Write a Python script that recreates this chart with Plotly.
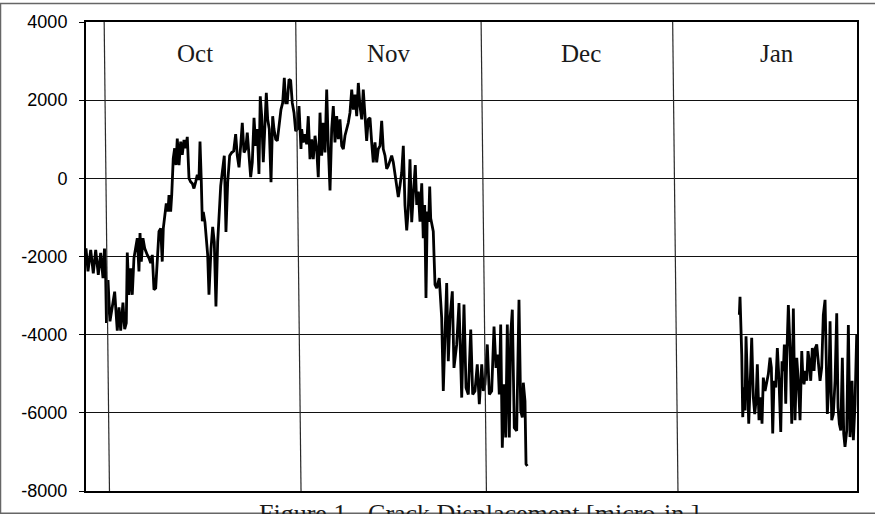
import plotly.graph_objects as go

# Crack displacement record, micro-inches; time in days since 1 October
fall_day = [
    -3.37, -3.05, -2.61, -2.19, -1.80, -1.38, -1.00, -0.62, -0.38, -0.22,
    -0.06, 0.19, 0.51, 0.88, 1.27, 1.69, 1.97, 2.24, 2.61, 2.89,
    3.15, 3.31, 3.58, 3.86, 4.12, 4.39, 4.67, 4.93, 5.20, 5.37,
    5.58, 5.85, 6.13, 6.29, 6.55, 6.82, 7.10, 7.36, 7.63, 7.91,
    8.16, 8.44, 8.72, 8.97, 9.14, 9.36, 9.62, 9.90, 10.06, 10.33,
    10.50, 10.75, 10.98, 11.19, 11.40, 11.68, 11.95, 12.21, 12.49, 12.76,
    13.02, 13.30, 13.57, 13.83, 14.10, 14.38, 14.64, 14.91, 15.08, 15.29,
    15.45, 15.61, 15.88, 16.32, 16.53, 16.86, 17.13, 17.39, 17.66, 17.94,
    18.15, 18.43, 18.68, 19.01, 19.28, 19.56, 19.88, 20.21, 20.53, 20.85,
    21.11, 21.39, 21.66, 21.92, 22.20, 22.47, 22.73, 23.01, 23.28, 23.54,
    23.82, 24.09, 24.35, 24.62, 24.83, 25.06, 25.32, 25.60, 25.81, 26.03,
    26.29, 26.57, 26.84, 27.05, 27.33, 27.59, 27.86, 28.18, 28.46, 28.72,
    28.95, 29.20, 29.48, 29.75, 30.01, 30.29, 30.56, 30.82, 31.10, 31.42,
    31.53, 31.79, 32.07, 32.34, 32.60, 32.88, 33.15, 33.41, 33.69, 33.96,
    34.22, 34.50, 34.77, 35.03, 35.31, 35.58, 35.84, 36.12, 36.39, 36.65,
    36.92, 37.20, 37.46, 37.73, 38.01, 38.27, 38.54, 38.82, 39.08, 39.35,
    39.63, 39.89, 40.16, 40.44, 40.70, 40.97, 41.25, 41.50, 41.78, 42.05,
    42.31, 42.59, 42.86, 43.12, 43.40, 43.67, 43.93, 44.21, 44.48, 44.74,
    45.02, 45.29, 45.55, 45.83, 46.10, 46.36, 46.63, 46.91, 47.17, 47.44,
    47.72, 47.98, 48.25, 48.53, 48.79, 49.06, 49.34, 49.60, 49.92, 50.15,
    50.41, 50.68, 50.96, 51.21, 51.44, 51.65, 51.86, 52.09, 52.25, 52.41,
    52.62, 52.83, 52.95, 53.11, 53.38, 53.80, 54.19, 54.45, 54.73, 55.00,
    55.26, 55.54, 55.91, 56.18, 56.62, 56.99, 57.43, 57.80, 58.13, 58.50,
    58.89, 59.21, 59.58, 59.95, 60.28, 60.67, 60.93, 61.20, 61.57, 61.90,
    62.28, 62.66, 62.98, 63.26, 63.51, 63.74, 64.00, 64.27, 64.55, 64.81,
    65.13, 65.36, 65.62, 65.94, 66.33, 66.70, 66.98, 67.24, 67.40, 67.67,
    67.84, 68.05,
]
fall_disp = [
    -1790, -2380, -1830, -2430, -1830, -2470, -1910, -2550, -1800, -2200,
    -3700, -2600, -3660, -3240, -2900, -3900, -3300, -3900, -3180, -3860,
    -3700, -1900, -2980, -2300, -2980, -2040, -1790, -1530, -2380, -1400,
    -2130, -1530, -1790, -1870, -1960, -2040, -2170, -1960, -2850, -2810,
    -2130, -1360, -1280, -2130, -1280, -1020, -640, -850, -430, -850,
    -430, 510, 770, 340, 1020, 340, 940, 600, 980, 770,
    1060, 0, -90, -130, -260, -90, 90, -40, 940, -90,
    -1100, -860, -1120, -1960, -2980, -1800, -1240, -1630, -3280, -1630,
    -950, -190, 150, 580, -1370, -100, 580, 660, 700, 1130,
    580, 280, 830, 1420, 660, 750, 1170, 580, 30, 410,
    1550, 830, 1260, 110, 2100, 1590, 410, 1420, 2190, 1510,
    1260, -100, 1590, 1260, 1000, 960, 1420, 1760, 1930, 2570,
    1930, 1930, 2530, 2500, 1930, 1680, 1210, 1260, 1850, 750,
    1260, 920, 1130, 870, 1590, 490, 1000, 490, 1090, 750,
    30, 1680, 580, 1420, 660, 2270, 830, -310, 1260, 1850,
    920, 1590, 1000, 1510, 830, 750, 1090, 1260, 1420, 1680,
    2270, 1760, 2140, 1590, 2440, 1850, 1510, 2270, 1420, 960,
    1510, 1550, 920, 410, 920, 410, 750, 830, 1470, 750,
    580, 240, 320, 490, 580, 410, 70, -230, -480, -190,
    150, 830, -690, -1330, -780, 490, -1120, -400, 340, -680,
    -340, -1110, -130, -1530, -680, -3060, -850, -1110, -210, -1020,
    -1190, -1360, -1960, -2720, -2810, -2550, -3570, -5440, -4000, -2680,
    -4680, -3570, -2890, -4850, -4250, -3190, -5610, -3230, -5360, -5530,
    -3870, -5530, -5440, -4760, -5780, -4760, -5440, -5270, -4250, -5530,
    -5440, -3790, -4850, -4510, -5530, -3740, -6890, -5270, -6630, -3740,
    -6630, -4000, -3360, -6380, -6460, -3110, -5950, -6120, -5230, -5700,
    -7310, -7360,
]

jan_day = [
    102.36, 102.47, 102.75, 102.91, 103.12, 103.28, 103.44, 103.65, 103.88, 104.09,
    104.36, 104.62, 104.85, 105.06, 105.27, 105.54, 105.82, 106.03, 106.24, 106.52,
    106.79, 107.05, 107.33, 107.54, 107.76, 107.97, 108.25, 108.51, 108.78, 109.06,
    109.27, 109.48, 109.64, 109.87, 110.03, 110.29, 110.56, 110.84, 111.10, 111.37,
    111.65, 111.90, 112.18, 112.46, 112.62, 112.83, 113.04, 113.27, 113.47, 113.68,
    113.91, 114.17, 114.45, 114.66, 114.88, 115.14, 115.42, 115.69, 115.95, 116.23,
    116.39, 116.60, 116.87, 117.04, 117.31, 117.57, 117.85, 118.12, 118.33, 118.54,
    118.77, 119.03, 119.25, 119.46, 119.74, 120.00, 120.27, 120.43, 120.60, 120.81,
    121.08, 121.35,
]
jan_disp = [
    -3490, -3030, -4510, -6110, -5350, -5940, -4040, -5440, -6280, -5350,
    -4080, -5600, -6030, -5690, -4760, -6190, -5600, -6280, -5100, -5440,
    -5180, -5010, -4590, -4840, -6530, -5180, -5350, -4340, -5180, -6490,
    -4680, -4930, -4250, -5770, -4590, -3240, -4340, -6280, -3330, -6190,
    -4590, -5180, -6190, -4420, -5010, -5270, -4930, -5180, -4420, -4680,
    -5180, -4340, -4930, -4340, -4250, -4680, -5180, -4840, -3490, -3110,
    -4340, -6030, -5180, -3660, -6190, -6030, -5180, -3450, -5860, -6280,
    -6450, -4590, -6530, -6870, -6450, -3750, -6620, -6190, -5180, -6700,
    -5770, -4000,
]

month_names = ["Oct", "Nov", "Dec", "Jan"]
month_start_day = [0, 31, 61, 92]
month_label_day = [14.3, 45.7, 76.7, 108.4]

y_ticks = [-8000, -6000, -4000, -2000, 0, 2000, 4000]
caption = "Figure 1 - Crack Displacement [micro-in.]"

# Page geometry
W, H = 875, 514
ML, MR, MT, MB = 86, 18, 19, 23
PW, PH = W - ML - MR, H - MT - MB


def px_to_paper_x(px):
    return (px - ML) / PW


def px_to_paper_y(py):
    return 1 - (py - MT) / PH


serif = "Liberation Serif, Times New Roman, serif"
sans = "Liberation Sans, Arial, sans-serif"

fig = go.Figure()
for days, disp in [(fall_day, fall_disp), (jan_day, jan_disp)]:
    fig.add_trace(go.Scatter(
        x=days, y=disp, mode="lines",
        line=dict(color="black", width=2.8),
        showlegend=False, hoverinfo="x+y",
    ))

shapes = []
# Month boundaries, drawn with a slight lean
lean = 0.43
for d in month_start_day:
    shapes.append(dict(
        type="line", xref="x", yref="paper",
        x0=d - lean, x1=d + lean, y0=1, y1=0,
        line=dict(color="#2a2a2a", width=1.2), layer="above",
    ))

# Outer frame around the page (left, top, bottom edges)
shapes.append(dict(
    type="rect", xref="paper", yref="paper",
    x0=px_to_paper_x(0.5), x1=px_to_paper_x(W + 3),
    y0=px_to_paper_y(H - 0.5), y1=px_to_paper_y(0.5),
    line=dict(color="#666666", width=1.5), fillcolor="rgba(0,0,0,0)",
))

annotations = []
for name, d in zip(month_names, month_label_day):
    annotations.append(dict(
        x=d, y=3200, xref="x", yref="y", text=name, showarrow=False,
        xanchor="center", yanchor="middle",
        font=dict(family=serif, size=25, color="#1a1a1a"),
    ))

annotations.append(dict(
    x=px_to_paper_x(479), y=px_to_paper_y(497), xref="paper", yref="paper",
    text=caption, showarrow=False, xanchor="center", yanchor="top",
    font=dict(family=serif, size=26, color="#1a1a1a"),
))

fig.update_layout(
    width=W, height=H,
    margin=dict(l=ML, r=MR, t=MT, b=MB, pad=0),
    paper_bgcolor="white", plot_bgcolor="white",
    shapes=shapes, annotations=annotations,
    xaxis=dict(
        range=[-3.37, 121.4], showgrid=False, zeroline=False,
        showticklabels=False, ticks="",
        showline=True, mirror=True, linecolor="black", linewidth=2,
    ),
    yaxis=dict(
        range=[-8000, 4000], tickvals=y_ticks,
        ticktext=[str(v) for v in y_ticks],
        showgrid=True, gridcolor="#111111", gridwidth=1, zeroline=False,
        ticks="outside", ticklen=5, tickwidth=1, tickcolor="black",
        ticklabelstandoff=8,
        tickfont=dict(family=sans, size=18, color="black"),
        showline=True, mirror=True, linecolor="black", linewidth=2,
    ),
)

fig.write_html("out.html")
